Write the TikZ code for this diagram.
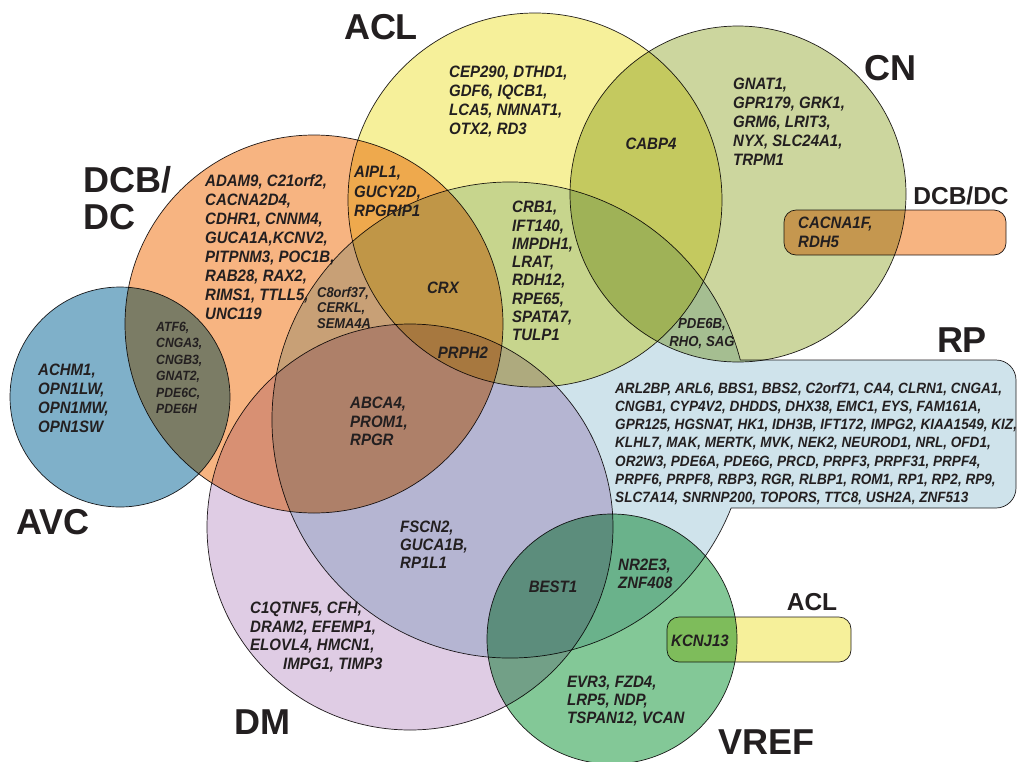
\documentclass[tikz,border=0pt]{standalone}
\usepackage{fontspec}
\setmainfont{Liberation Sans}
\newfontfamily\gf[FakeStretch=0.91]{Liberation Sans}
\definecolor{ink}{HTML}{231F20}
\definecolor{cACL}{HTML}{F6F09A}
\definecolor{cCN}{HTML}{CCD69E}
\definecolor{cDCB}{HTML}{F7B481}
\definecolor{cAVC}{HTML}{7FB0C9}
\definecolor{cDM}{HTML}{DFCCE4}
\definecolor{cRP}{HTML}{CFE3EB}
\definecolor{cVREF}{HTML}{83C897}
\tikzset{
  setshape/.style={draw=ink, line width=0.7pt},
  gene/.style={inner sep=0pt, align=left, anchor=north west, text=ink, font=\gf\bfseries\itshape\fontsize{16.5}{19}\selectfont},
  genec/.style={inner sep=0pt, anchor=center, text=ink, font=\gf\bfseries\itshape\fontsize{16.5}{19}\selectfont},
  genelight/.style={inner sep=0pt, align=left, anchor=north west, text=ink, font=\gf\bfseries\itshape\fontsize{13.5}{16}\selectfont},
  setlabel/.style={inner sep=0pt, text=ink, font=\bfseries\fontsize{36}{37}\selectfont},
  boxlabel/.style={inner sep=0pt, text=ink, font=\bfseries\fontsize{24.5}{26}\selectfont}
}
\begin{document}
\begin{tikzpicture}[x=1pt,y=-1pt]
\useasboundingbox (0,0) rectangle (1018,761);
\fill[white] (0,0) rectangle (1018,761);
\begin{scope}[blend group=multiply]
  % RP: circle joined with a rounded band to the right
  \path[setshape, fill=cRP] ([shift={(510,420)}]-14.6:238)
     arc[start angle=-14.6, end angle=-338.3, radius=238]
     -- (996,508) arc[start angle=90, end angle=0, radius=20]
     -- (1016,380) arc[start angle=0, end angle=-90, radius=20] -- cycle;
  \path[setshape, fill=cACL] (535,200) circle[radius=187];
  \path[setshape, fill=cCN] (738,194) circle[radius=168];
  \path[setshape, fill=cDCB] (314,324) circle[radius=189];
  \path[setshape, fill=cAVC] (120,397) circle[radius=110];
  \path[setshape, fill=cDM] (410,527) circle[radius=203];
  \path[setshape, fill=cVREF] (612,639) circle[radius=125];
  \path[setshape, fill=cDCB, rounded corners=12] (784,210) rectangle (1006,255);
  \path[setshape, fill=cACL, rounded corners=12] (667,617) rectangle (851,662);
\end{scope}

% set labels
\node[setlabel] (lACL) at (381,27) {ACL};
\node[setlabel] (lCN) at (890,68) {CN};
\node[setlabel, align=left, anchor=north west, font=\bfseries\fontsize{36}{37}\selectfont] (lDCB) at (83,166) {DCB/\\DC};
\node[setlabel] (lRP) at (962,340) {RP};
\node[setlabel] (lAVC) at (53,522) {AVC};
\node[setlabel] (lDM) at (262,722) {DM};
\node[setlabel] (lVREF) at (766,742) {VREF};
\node[boxlabel] (lDCB2) at (961,196) {DCB/DC};
\node[boxlabel] (lACL2) at (812,602) {ACL};

% gene lists
\node[gene] (gACL) at (449,66) {CEP290, DTHD1,\\GDF6, IQCB1,\\LCA5, NMNAT1,\\OTX2, RD3};
\node[gene] (gCN) at (733,78) {GNAT1,\\GPR179, GRK1,\\GRM6, LRIT3,\\NYX, SLC24A1,\\TRPM1};
\node[genec] (gCABP) at (651,144) {CABP4};
\node[gene] (gCAC) at (798,217) {CACNA1F,\\RDH5};
\node[gene, font=\gf\bfseries\itshape\fontsize{16.5}{19.5}\selectfont] (gAIPL) at (354,166) {AIPL1,\\GUCY2D,\\RPGRIP1};
\node[gene] (gDCB) at (205,174) {ADAM9, C21orf2,\\CACNA2D4,\\CDHR1, CNNM4,\\GUCA1A,KCNV2,\\PITPNM3, POC1B,\\RAB28, RAX2,\\RIMS1, TTLL5,\\UNC119};
\node[genelight, font=\gf\bfseries\itshape\fontsize{14.2}{15.5}\selectfont] (gC8) at (317,287) {C8orf37,\\CERKL,\\SEMA4A};
\node[genelight, font=\gf\bfseries\itshape\fontsize{13.4}{16.4}\selectfont] (gATF) at (156,322) {ATF6,\\CNGA3,\\CNGB3,\\GNAT2,\\PDE6C,\\PDE6H};
\node[gene] (gAVC) at (38,364) {ACHM1,\\OPN1LW,\\OPN1MW,\\OPN1SW};
\node[genec] (gCRX) at (443,288) {CRX};
\node[genec] (gPRPH) at (463,353) {PRPH2};
\node[gene, font=\gf\bfseries\itshape\fontsize{16.5}{18.3}\selectfont] (gCRB) at (512,201) {CRB1,\\IFT140,\\IMPDH1,\\LRAT,\\RDH12,\\RPE65,\\SPATA7,\\TULP1};
\node[gene, font=\gf\bfseries\itshape\fontsize{16.5}{18.5}\selectfont] (gABCA) at (350,397) {ABCA4,\\PROM1,\\RPGR};
\node[gene, font=\gf\bfseries\itshape\fontsize{16.5}{18}\selectfont] (gFSCN) at (400,521) {FSCN2,\\GUCA1B,\\RP1L1};
\node[genec] (gBEST) at (553,587) {BEST1};
\node[gene, font=\gf\bfseries\itshape\fontsize{16.5}{18}\selectfont] (gNR) at (618,559) {NR2E3,\\ZNF408};
\node[gene, font=\gf\bfseries\itshape\fontsize{16.5}{18.5}\selectfont] (gC1Q) at (250,602) {C1QTNF5, CFH,\\DRAM2, EFEMP1,\\ELOVL4, HMCN1,\\\hspace*{33pt}IMPG1, TIMP3};
\node[gene, font=\gf\bfseries\itshape\fontsize{16.5}{18}\selectfont] (gEVR) at (567,676) {EVR3, FZD4,\\LRP5, NDP,\\TSPAN12, VCAN};
\node[genec] (gKCNJ) at (700,641) {KCNJ13};
\node[gene, align=center, anchor=north, font=\gf\bfseries\itshape\fontsize{14.5}{18}\selectfont] (gPDE) at (702,318) {PDE6B,\\RHO, SAG};
\node[gene, font=\gf\bfseries\itshape\fontsize{14.9}{18.3}\selectfont] (gRP) at (615,382) {ARL2BP, ARL6, BBS1, BBS2, C2orf71, CA4, CLRN1, CNGA1,\\CNGB1, CYP4V2, DHDDS, DHX38, EMC1, EYS, FAM161A,\\GPR125, HGSNAT, HK1, IDH3B, IFT172, IMPG2, KIAA1549, KIZ,\\KLHL7, MAK, MERTK, MVK, NEK2, NEUROD1, NRL, OFD1,\\OR2W3, PDE6A, PDE6G, PRCD, PRPF3, PRPF31, PRPF4,\\PRPF6, PRPF8, RBP3, RGR, RLBP1, ROM1, RP1, RP2, RP9,\\SLC7A14, SNRNP200, TOPORS, TTC8, USH2A, ZNF513};
\end{tikzpicture}
\end{document}
